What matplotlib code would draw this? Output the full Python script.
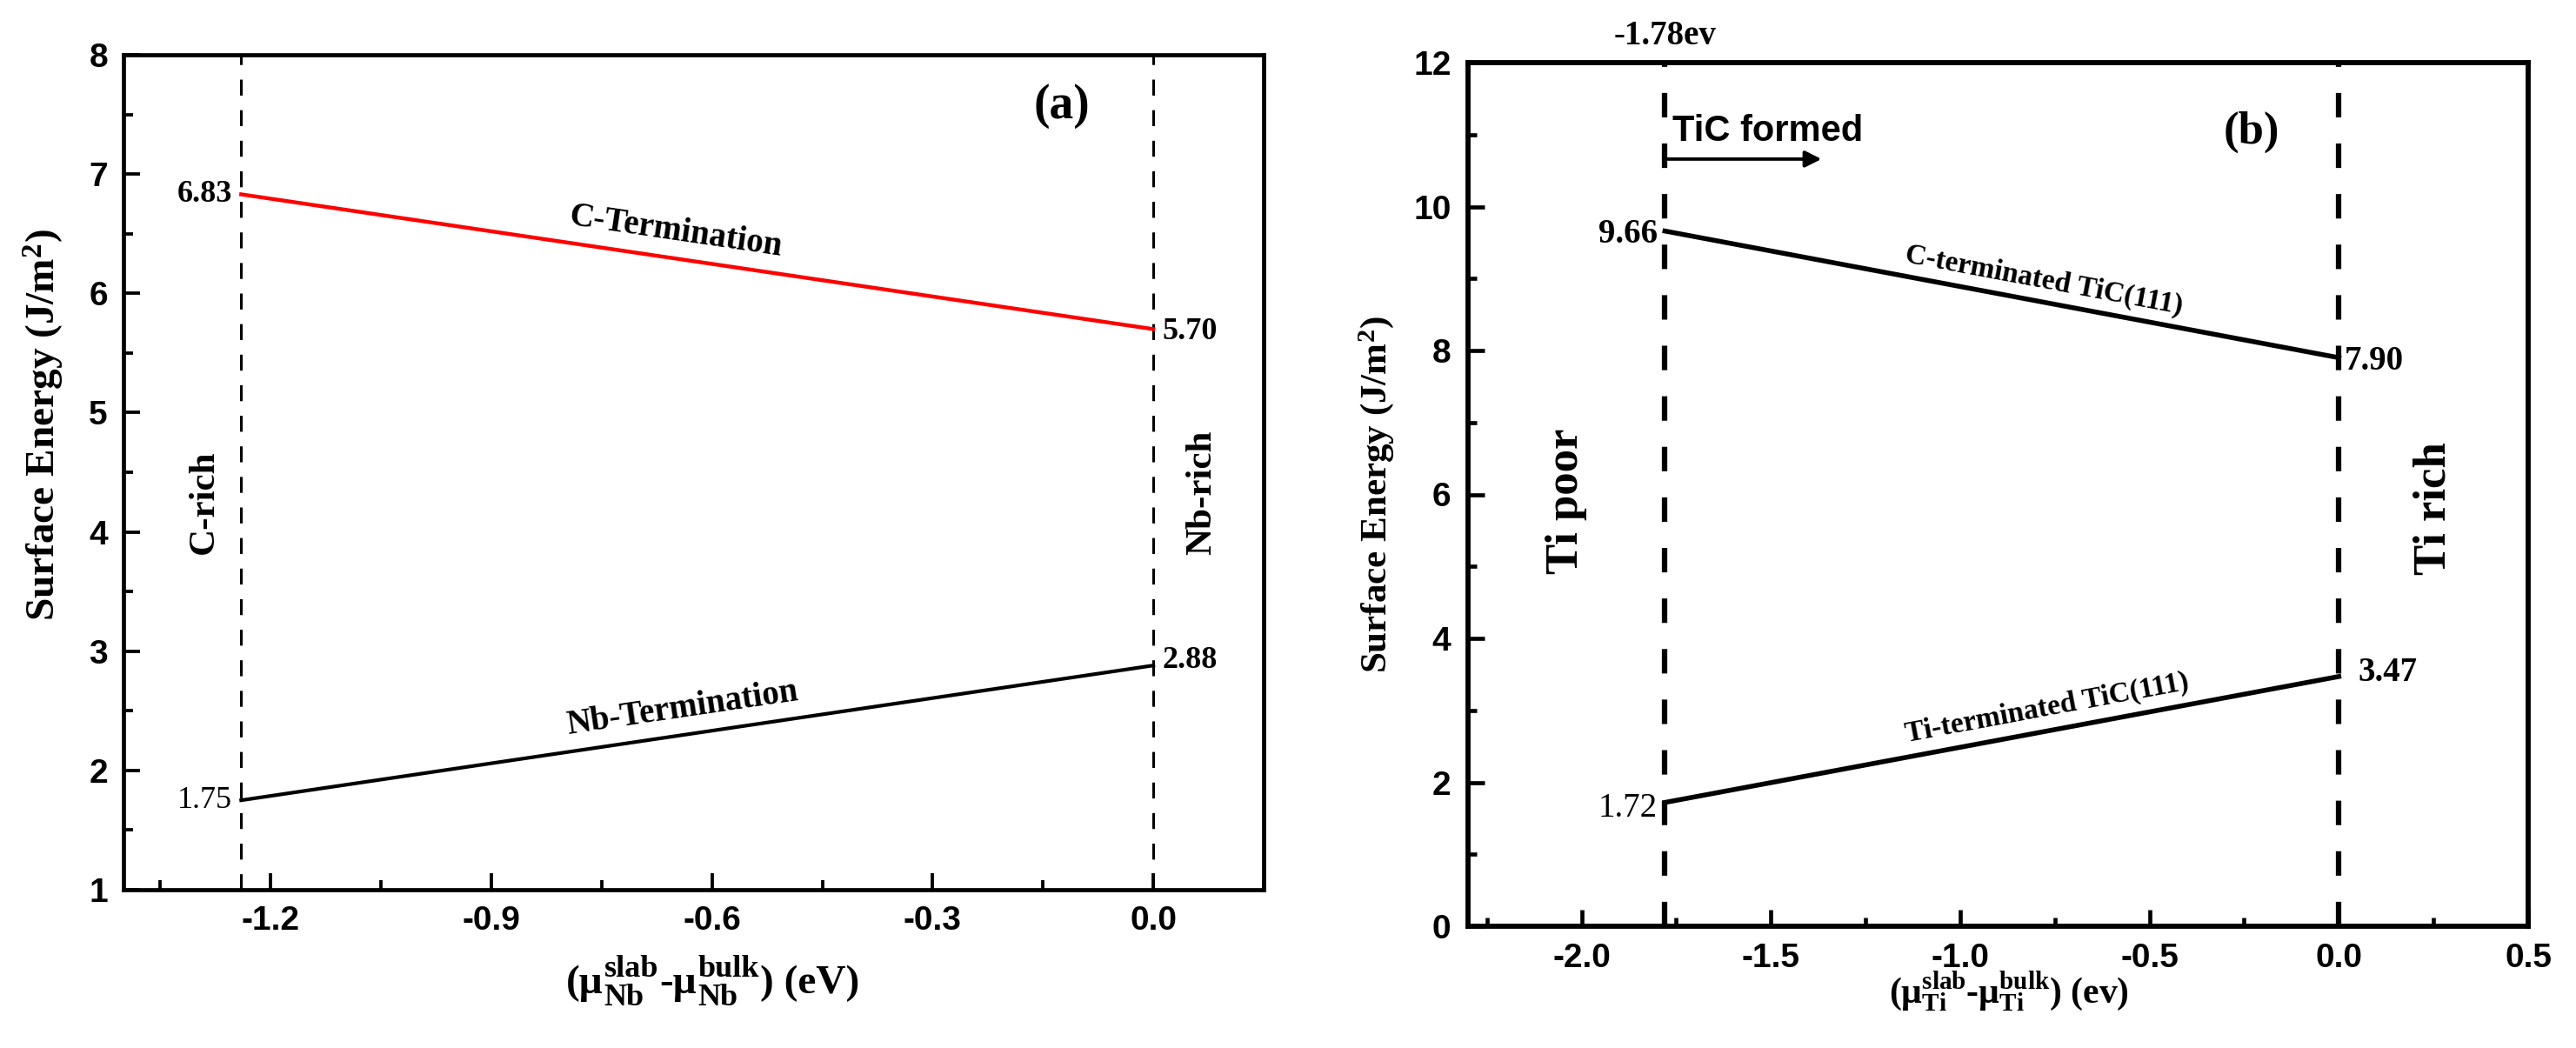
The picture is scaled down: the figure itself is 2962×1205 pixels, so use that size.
import numpy as np
import matplotlib
matplotlib.use("Agg")
import matplotlib.pyplot as plt
from matplotlib.ticker import MultipleLocator
from matplotlib.offsetbox import TextArea, HPacker, VPacker, AnnotationBbox

plt.rcParams['mathtext.fontset'] = 'custom'
plt.rcParams['mathtext.rm'] = 'Liberation Serif:bold'
plt.rcParams['mathtext.bf'] = 'Liberation Serif:bold'
plt.rcParams['mathtext.it'] = 'Liberation Serif:bold'

# ---------------- data ----------------
# panel (a): Nb chemical potential range
a_mu = [-1.24, 0.0]
a_c_term = [6.83, 5.70]
a_nb_term = [1.75, 2.88]
a_xticks = [-1.2, -0.9, -0.6, -0.3, 0.0]
a_yticks = [1, 2, 3, 4, 5, 6, 7, 8]

# panel (b): Ti chemical potential range
b_mu = [-1.78, 0.0]
b_c_term = [9.66, 7.90]
b_ti_term = [1.72, 3.47]
b_xticks = [-2.0, -1.5, -1.0, -0.5, 0.0, 0.5]
b_yticks = [0, 2, 4, 6, 8, 10, 12]

W, H = 2962, 1205
fig = plt.figure(figsize=(W / 100, H / 100), dpi=100)

serif = 'Liberation Serif'
sans = 'Liberation Sans'


def style_axes(ax, lw, major_len, minor_len, fs, pad):
    for s in ax.spines.values():
        s.set_linewidth(lw)
    ax.tick_params(which='major', direction='in', length=major_len, width=lw * 0.8,
                   labelsize=fs, pad=pad)
    ax.tick_params(which='minor', direction='in', length=minor_len, width=lw * 0.8)
    ax.tick_params(top=False, right=False, which='both')
    for lab in ax.get_xticklabels() + ax.get_yticklabels():
        lab.set_fontfamily(sans)
        lab.set_fontweight('bold')


def line_angle(ax, xs, ys):
    p = ax.transData.transform(np.column_stack([xs, ys]))
    return np.degrees(np.arctan2(p[1, 1] - p[0, 1], p[1, 0] - p[0, 0]))


tf = dict(family=serif, fontweight='bold')

# ---------------- panel (a) ----------------
axa = fig.add_axes([142 / W, 1 - 1023 / H, (1453 - 142) / W, (1023 - 63) / H])
axa.set_xlim(-1.40, 0.15)
axa.set_ylim(1, 8)
axa.set_xticks(a_xticks)
axa.set_xticklabels([f"{v:.1f}" for v in a_xticks])
axa.set_yticks(a_yticks)
axa.xaxis.set_minor_locator(MultipleLocator(0.15))
axa.yaxis.set_minor_locator(MultipleLocator(0.5))
style_axes(axa, 3.4, 14, 8, 28, 13)

for xv in a_mu:
    axa.axvline(xv, color='black', lw=2.2, dashes=(6, 5.5))
axa.plot(a_mu, a_c_term, color='#ff0000', lw=3.2)
axa.plot(a_mu, a_nb_term, color='black', lw=3.0)

axa.text(a_mu[0] - 0.012, a_c_term[0], f"{a_c_term[0]:.2f}", ha='right', va='center', fontsize=26, **tf)
axa.text(a_mu[1] + 0.012, a_c_term[1] - 0.02, f"{a_c_term[1]:.2f}", ha='left', va='center', fontsize=26, **tf)
axa.text(a_mu[1] + 0.012, a_nb_term[1] + 0.04, f"{a_nb_term[1]:.2f}", ha='left', va='center', fontsize=26, **tf)
axa.text(a_mu[0] - 0.012, a_nb_term[0], f"{a_nb_term[0]:.2f}", ha='right', va='center', fontsize=26,
         family=serif)

ang_c = line_angle(axa, a_mu, a_c_term)
ang_n = line_angle(axa, a_mu, a_nb_term)
xc = -0.65
yc = np.interp(xc, a_mu, a_c_term)
axa.text(xc, yc + 0.22, "C-Termination", rotation=ang_c, rotation_mode='anchor',
         ha='center', va='center', fontsize=28, **tf)
xn = -0.64
yn = np.interp(xn, a_mu, a_nb_term)
axa.text(xn, yn + 0.22, "Nb-Termination", rotation=ang_n, rotation_mode='anchor',
         ha='center', va='center', fontsize=28, **tf)

axa.text(-0.125, 7.57, "(a)", ha='center', va='center', fontsize=40, **tf)
axa.text(-1.29, 4.25, "C-rich", rotation=90, ha='center', va='center', fontsize=31, **tf)
axa.text(0.066, 4.33, "Nb-rich", rotation=90, ha='center', va='center', fontsize=31, **tf)

axa.set_ylabel("Surface Energy (J/m$^{2}$)", family=serif, fontweight='bold', fontsize=34)
axa.yaxis.set_label_coords(-0.05, 0.557)

# custom x label with large sub/superscripts
main_p = dict(family=serif, fontweight='bold', fontsize=34)
scr_p = dict(family=serif, fontweight='bold', fontsize=26)


def stack(sup, sub):
    return VPacker(children=[TextArea(sup, textprops=scr_p), TextArea(sub, textprops=scr_p)],
                   align='left', pad=0, sep=0)


xlab_a = HPacker(children=[TextArea("(μ", textprops=main_p), stack("slab", "Nb"),
                           TextArea("-μ", textprops=main_p), stack("bulk", "Nb"),
                           TextArea(") (eV)", textprops=main_p)],
                 align='center', pad=0, sep=1)
axa.add_artist(AnnotationBbox(xlab_a, (0.517, -0.112), xycoords='axes fraction',
                              box_alignment=(0.5, 0.5), frameon=False, annotation_clip=False))

# ---------------- panel (b) ----------------
axb = fig.add_axes([1688 / W, 1 - 1065 / H, (2907 - 1688) / W, (1065 - 72) / H])
axb.set_xlim(-2.3, 0.5)
axb.set_ylim(0, 12)
axb.set_xticks(b_xticks)
axb.set_xticklabels([f"{v:.1f}" for v in b_xticks])
axb.set_yticks(b_yticks)
axb.xaxis.set_minor_locator(MultipleLocator(0.25))
axb.yaxis.set_minor_locator(MultipleLocator(1))
style_axes(axb, 4.2, 14, 7, 28, 14)

for xv in b_mu:
    axb.axvline(xv, color='black', lw=4.5, dashes=(4.5, 4.8))
axb.plot(b_mu, b_c_term, color='black', lw=4.0)
axb.plot(b_mu, b_ti_term, color='black', lw=4.0)

axb.text(b_mu[0] - 0.02, b_c_term[0] - 0.05, f"{b_c_term[0]:.2f}", ha='right', va='center', fontsize=28, **tf)
axb.text(b_mu[1] + 0.015, b_c_term[1] - 0.05, f"{b_c_term[1]:.2f}", ha='left', va='center', fontsize=28, **tf)
axb.text(b_mu[1] + 0.05, b_ti_term[1] + 0.05, f"{b_ti_term[1]:.2f}", ha='left', va='center', fontsize=28, **tf)
axb.text(b_mu[0] - 0.02, b_ti_term[0] - 0.08, f"{b_ti_term[0]:.2f}", ha='right', va='center', fontsize=28,
         family=serif)

ang_bc = line_angle(axb, b_mu, b_c_term)
ang_bt = line_angle(axb, b_mu, b_ti_term)
xbc = -0.78
ybc = np.interp(xbc, b_mu, b_c_term)
axb.text(xbc, ybc + 0.3, "C-terminated TiC(111)", rotation=ang_bc, rotation_mode='anchor',
         ha='center', va='center', fontsize=24, **tf)
xbt = -0.77
ybt = np.interp(xbt, b_mu, b_ti_term)
axb.text(xbt, ybt + 0.32, "Ti-terminated TiC(111)", rotation=ang_bt, rotation_mode='anchor',
         ha='center', va='center', fontsize=24, **tf)

axb.text(b_mu[0], 12.37, f"{b_mu[0]:.2f}ev", ha='center', va='center', fontsize=28, clip_on=False, **tf)
axb.text(-1.76, 11.05, "TiC formed", ha='left', va='center', fontsize=30, family=sans, fontweight='bold')
axb.annotate("", xy=(-1.36, 10.66), xytext=(-1.79, 10.66),
             arrowprops=dict(arrowstyle='-|>', color='black', lw=2.8, mutation_scale=28))
axb.text(-0.23, 11.03, "(b)", ha='center', va='center', fontsize=38, **tf)
axb.text(-2.04, 5.9, "Ti poor", rotation=90, ha='center', va='center', fontsize=38, **tf)
axb.text(0.25, 5.8, "Ti rich", rotation=90, ha='center', va='center', fontsize=38, **tf)

axb.set_ylabel("Surface Energy (J/m$^{2}$)", family=serif, fontweight='bold', fontsize=31)
axb.yaxis.set_label_coords(-0.068, 0.50)
axb.set_xlabel(r"$(\mathrm{μ}^{\mathrm{slab}}_{\mathrm{Ti}}$-$\mathrm{μ}^{\mathrm{bulk}}_{\mathrm{Ti}})$ (ev)",
               family=serif, fontweight='bold', fontsize=30)
axb.xaxis.set_label_coords(0.51, -0.05)

fig.savefig("out.png", dpi=100)
